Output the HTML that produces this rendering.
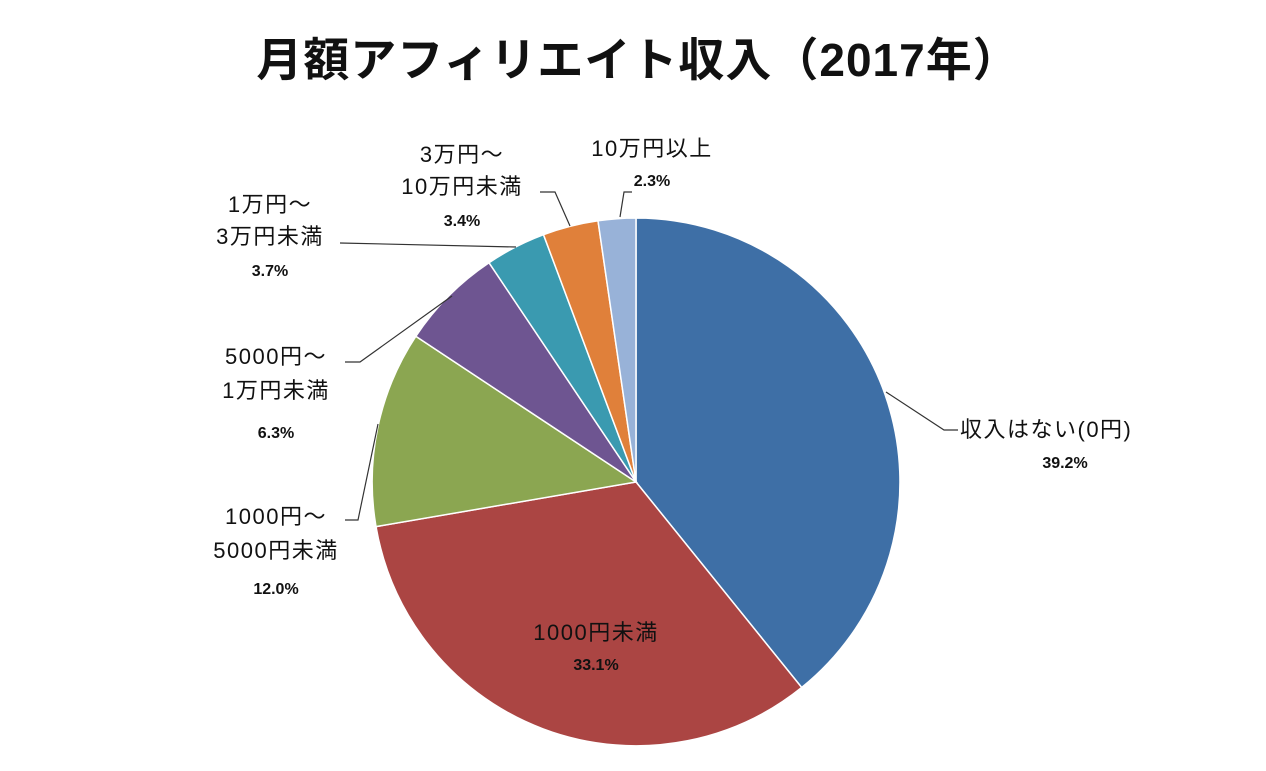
<!DOCTYPE html>
<html><head><meta charset="utf-8"><style>
html,body{margin:0;padding:0;background:#fff;}
body{width:1266px;height:766px;overflow:hidden;}
text{font-family:"Liberation Sans","Noto Sans CJK JP",sans-serif;fill:#111;}
.l{font-size:22px;letter-spacing:1.5px;}
.p{font-size:16px;font-weight:bold;}
</style></head><body>
<svg width="1266" height="766" viewBox="0 0 1266 766" xmlns="http://www.w3.org/2000/svg">
<text x="638" y="76" text-anchor="middle" style="font-size:46px;font-weight:bold;letter-spacing:1px;">月額アフィリエイト収入（2017年）</text>
<g stroke="#fff" stroke-width="1.5">
<path d="M636,482 L636,218 A264,264 0 0 1 801.7,687.5 Z" fill="#3e6fa6"/>
<path d="M636,482 L801.7,687.5 A264,264 0 0 1 376,526.6 Z" fill="#ab4543"/>
<path d="M636,482 L376,526.6 A264,264 0 0 1 415.8,336.3 Z" fill="#8ba651"/>
<path d="M636,482 L415.8,336.3 A264,264 0 0 1 489,262.7 Z" fill="#6e5591"/>
<path d="M636,482 L489,262.7 A264,264 0 0 1 543.5,234.7 Z" fill="#3a9ab0"/>
<path d="M636,482 L543.5,234.7 A264,264 0 0 1 598,220.8 Z" fill="#e0803a"/>
<path d="M636,482 L598,220.8 A264,264 0 0 1 636,218 Z" fill="#98b2d8"/>
</g>
<g stroke="#333" stroke-width="1.2" fill="none">
<polyline points="886,392 944,430 958,430"/>
<polyline points="620,217 624,192 632,192"/>
<polyline points="570,226 555,192 540,192"/>
<polyline points="516,247 340,243"/>
<polyline points="452,296 360,362 345,362"/>
<polyline points="378,424 358,520 345,520"/>
</g>
<text class="l" x="960" y="437">収入はない(0円)</text>
<text class="p" x="1065" y="468" text-anchor="middle">39.2%</text>
<text class="l" x="596" y="640" text-anchor="middle">1000円未満</text>
<text class="p" x="596" y="670" text-anchor="middle">33.1%</text>
<text class="l" x="652" y="156" text-anchor="middle">10万円以上</text>
<text class="p" x="652" y="186" text-anchor="middle">2.3%</text>
<text class="l" x="462" y="162" text-anchor="middle">3万円～</text>
<text class="l" x="462" y="194" text-anchor="middle">10万円未満</text>
<text class="p" x="462" y="226" text-anchor="middle">3.4%</text>
<text class="l" x="270" y="212" text-anchor="middle">1万円～</text>
<text class="l" x="270" y="244" text-anchor="middle">3万円未満</text>
<text class="p" x="270" y="276" text-anchor="middle">3.7%</text>
<text class="l" x="276" y="364" text-anchor="middle">5000円～</text>
<text class="l" x="276" y="398" text-anchor="middle">1万円未満</text>
<text class="p" x="276" y="438" text-anchor="middle">6.3%</text>
<text class="l" x="276" y="524" text-anchor="middle">1000円～</text>
<text class="l" x="276" y="558" text-anchor="middle">5000円未満</text>
<text class="p" x="276" y="594" text-anchor="middle">12.0%</text>
</svg>
</body></html>
